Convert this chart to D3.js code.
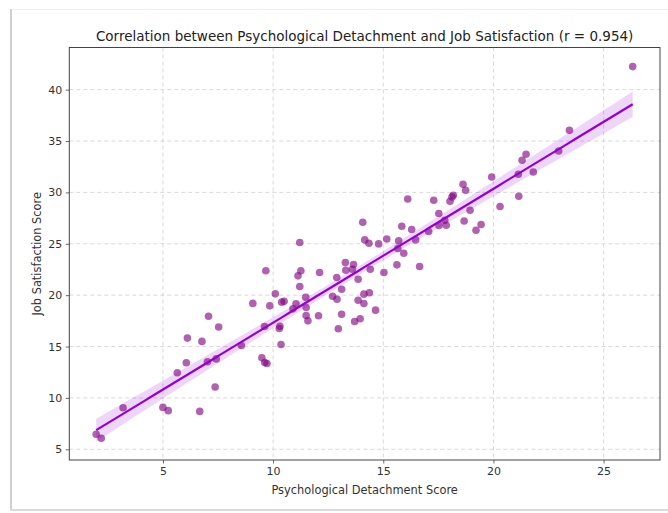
<!DOCTYPE html>
<html>
<head>
<meta charset="utf-8">
<script src="https://cdn.jsdelivr.net/npm/d3@7/dist/d3.min.js"></script>
<style>
  html, body { margin: 0; padding: 0; background: #fff; }
  svg { display: block; font-family: "DejaVu Sans", sans-serif; }
</style>
</head>
<body>
<svg id="chart" width="668" height="513"></svg>
<script>
// ---- Data ----
const detachment = [
  1.97, 2.20, 3.19, 5.00, 5.24, 5.65, 6.06, 6.11, 6.67, 6.77,
  7.07, 7.02, 7.42, 7.37, 7.53, 8.56, 9.08, 9.49, 9.62, 9.72,
  9.61, 9.85,
  14.07, 14.16, 14.35, 14.79, 11.21, 9.67, 11.26, 11.13, 12.11, 11.21,
  13.28, 13.65, 13.30, 13.60, 14.41, 12.89, 13.86, 13.11, 10.10,
  10.39, 10.50, 11.48, 11.04, 10.90, 11.50, 12.70, 12.90, 14.12, 14.37,
  13.86, 14.12, 14.65, 11.50, 11.58, 12.06, 13.11, 13.95, 13.70, 12.96,
  10.31, 10.28, 10.36,
  21.48, 21.30, 21.13, 21.15, 19.92, 20.30, 18.62, 18.74, 18.18, 18.12,
  18.03, 17.29, 16.11, 18.94, 17.52, 17.79, 17.53, 17.86, 18.67, 19.44,
  19.21, 17.06, 15.84, 16.29, 16.47, 15.16, 15.70, 15.66, 15.93, 15.62,
  15.03, 16.65,
  26.32, 23.45, 22.96, 21.81
];
const satisfaction = [
  6.46, 6.07, 9.05, 9.08, 8.76, 12.45, 13.43, 15.82, 8.69, 15.50,
  17.95, 13.52, 13.80, 11.06, 16.90, 15.10, 19.20, 13.90, 13.45, 13.35,
  16.95, 18.96,
  27.09, 25.38, 25.05, 24.99, 25.12, 22.37, 22.37, 21.88, 22.20, 20.84,
  23.17, 22.98, 22.43, 22.52, 22.52, 21.72, 21.55, 20.58, 20.13,
  19.32, 19.40, 19.80, 19.16, 18.67, 18.80, 19.90, 19.60, 20.10, 20.23,
  19.50, 19.19, 18.54, 18.02, 17.50, 17.99, 18.15, 17.70, 17.44, 16.73,
  16.98, 16.76, 15.20,
  33.71, 33.13, 31.76, 29.62, 31.50, 28.63, 30.79, 30.21, 29.72, 29.56,
  29.14, 29.24, 29.36, 28.26, 27.94, 27.29, 26.78, 26.81, 27.22, 26.87,
  26.32, 26.19, 26.71, 26.39, 25.38, 25.47, 25.28, 24.54, 24.08, 22.95,
  22.21, 22.79,
  42.24, 36.04, 34.03, 31.99
];
const xTicks = [5, 10, 15, 20, 25];
const yTicks = [5, 10, 15, 20, 25, 30, 35, 40];
const titleText = "Correlation between Psychological Detachment and Job Satisfaction (r = 0.954)";
const xLabel = "Psychological Detachment Score";
const yLabel = "Job Satisfaction Score";

// ---- Layout ----
const svg = d3.select("#chart");
const W = 668, H = 513;
const plot = { left: 69.3, right: 660, top: 47.5, bottom: 460 };

// card frame / shadow
svg.append("rect").attr("x", 0).attr("y", 0).attr("width", W).attr("height", H).attr("fill", "#fff");
const shadow = svg.append("g");
shadow.append("rect").attr("x", 10).attr("y", 9).attr("width", W - 10).attr("height", 1).attr("fill", "#f0f0f0");
shadow.append("rect").attr("x", 10).attr("y", 9).attr("width", 2).attr("height", 501).attr("fill", "#d0d0d0");
shadow.append("rect").attr("x", 10).attr("y", 509).attr("width", W - 10).attr("height", 2).attr("fill", "#dadada");

const x = d3.scaleLinear().domain([0.75, 27.56]).range([plot.left, plot.right]);
const y = d3.scaleLinear().domain([3.96, 44.1]).range([plot.bottom, plot.top]);

// grid
const grid = svg.append("g");
grid.selectAll("line.gx").data(xTicks).join("line")
  .attr("x1", d => x(d)).attr("x2", d => x(d))
  .attr("y1", plot.top).attr("y2", plot.bottom)
  .attr("stroke", "#cfcfcf").attr("stroke-width", 0.8).attr("stroke-dasharray", "4,3");
grid.selectAll("line.gy").data(yTicks).join("line")
  .attr("x1", plot.left).attr("x2", plot.right)
  .attr("y1", d => y(d)).attr("y2", d => y(d))
  .attr("stroke", "#cfcfcf").attr("stroke-width", 0.8).attr("stroke-dasharray", "4,3");

// regression (least squares) + 95% CI band
const pts = detachment.map((d, i) => ({ x: d, y: satisfaction[i] }));
const n = pts.length;
const mx = d3.mean(pts, p => p.x), my = d3.mean(pts, p => p.y);
const sxx = d3.sum(pts, p => (p.x - mx) ** 2);
const sxy = d3.sum(pts, p => (p.x - mx) * (p.y - my));
const slope = sxy / sxx, intercept = my - slope * mx;
const sres = Math.sqrt(d3.sum(pts, p => (p.y - (intercept + slope * p.x)) ** 2) / (n - 2));
const xmin = d3.min(detachment), xmax = d3.max(detachment);
const grid100 = d3.range(0, 101).map(i => xmin + (xmax - xmin) * i / 100);
const band = grid100.map(xv => {
  const yh = intercept + slope * xv;
  const se = sres * Math.sqrt(1 / n + (xv - mx) ** 2 / sxx);
  return { x: xv, lo: yh - 1.85 * se, hi: yh + 1.85 * se, yh };
});

svg.append("path").datum(band)
  .attr("d", d3.area().x(d => x(d.x)).y0(d => y(d.lo)).y1(d => y(d.hi)))
  .attr("fill", "#9400D3").attr("fill-opacity", 0.16);

// points
svg.append("g").selectAll("circle").data(pts).join("circle")
  .attr("cx", d => x(d.x)).attr("cy", d => y(d.y)).attr("r", 3.8)
  .attr("fill", "#800080").attr("fill-opacity", 0.62);

// regression line
svg.append("path").datum(band)
  .attr("d", d3.line().x(d => x(d.x)).y(d => y(d.yh)))
  .attr("fill", "none").attr("stroke", "#9400D3").attr("stroke-width", 2.2);

// spines
svg.append("rect").attr("x", plot.left).attr("y", plot.top)
  .attr("width", plot.right - plot.left).attr("height", plot.bottom - plot.top)
  .attr("fill", "none").attr("stroke", "#444").attr("stroke-width", 1);

// axes
const xAxis = d3.axisBottom(x).tickValues(xTicks).tickSize(3.5).tickPadding(3.5).tickFormat(d3.format("d"));
const yAxis = d3.axisLeft(y).tickValues(yTicks).tickSize(3.5).tickPadding(3.5).tickFormat(d3.format("d"));
const gx = svg.append("g").attr("transform", `translate(0,${plot.bottom})`).call(xAxis);
const gy = svg.append("g").attr("transform", `translate(${plot.left},0)`).call(yAxis);
[gx, gy].forEach(g => {
  g.select(".domain").remove();
  g.selectAll(".tick line").attr("stroke", "#444").attr("stroke-width", 0.8);
  g.selectAll(".tick text").attr("fill", "#333").attr("font-size", 11)
    .attr("font-family", "DejaVu Sans, sans-serif");
});

// title & labels
svg.append("text").attr("x", (plot.left + plot.right) / 2).attr("y", 40.5)
  .attr("text-anchor", "middle").attr("font-size", 13.5).attr("fill", "#222").text(titleText);
svg.append("text").attr("x", (plot.left + plot.right) / 2).attr("y", 493.5)
  .attr("text-anchor", "middle").attr("font-size", 11.4).attr("fill", "#333").text(xLabel);
svg.append("text").attr("transform", `translate(40.5,${(plot.top + plot.bottom) / 2}) rotate(-90)`)
  .attr("text-anchor", "middle").attr("font-size", 11.4).attr("fill", "#333").text(yLabel);
</script>
</body>
</html>
